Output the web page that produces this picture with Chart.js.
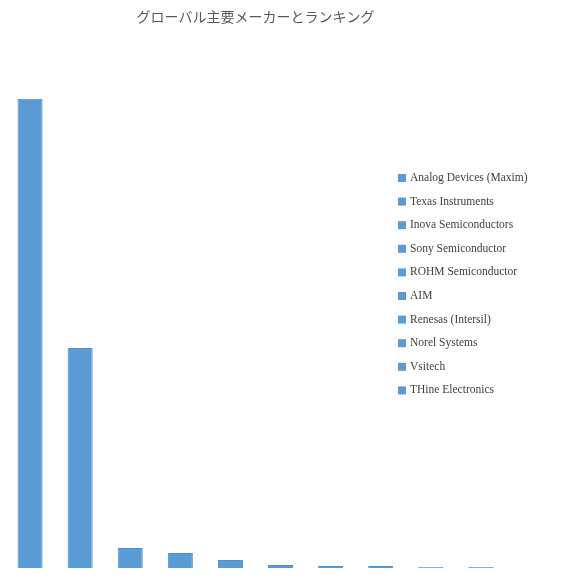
<!DOCTYPE html>
<html>
<head>
<meta charset="utf-8">
<script src="https://cdn.jsdelivr.net/npm/chart.js@4"></script>
<style>
  html, body { margin: 0; padding: 0; background: #fff; }
  #wrap { width: 562px; height: 583px; }
</style>
</head>
<body>
<div id="wrap"><canvas id="myChart"></canvas></div>
<script>
// categories and values
const makers = [
    'Analog Devices (Maxim)',
    'Texas Instruments',
    'Inova Semiconductors',
    'Sony Semiconductor',
    'ROHM Semiconductor',
    'AIM',
    'Renesas (Intersil)',
    'Norel Systems',
    'Vsitech',
    'THine Electronics'
];
const shares = [46.9, 22.0, 2.0, 1.5, 0.8, 0.3, 0.2, 0.2, 0.1, 0.1];
const titleText = 'グローバル主要メーカーとランキング';

const barColor = '#5B9BD5';

// legend drawn over the plot, like the original
const overlayLegend = {
    id: 'overlayLegend',
    afterDraw(chart) {
        const c = chart.ctx;
        c.save();
        c.font = '11.5px "Liberation Serif", "DejaVu Serif", serif';
        c.textBaseline = 'middle';
        chart.data.labels.forEach((name, i) => {
            const y = 178 + i * 23.6;
            c.fillStyle = barColor;
            c.fillRect(398, y - 4, 8, 8);
            c.fillStyle = '#404040';
            c.fillText(name, 410, y);
        });
        c.restore();
    }
};

const ctx = document.getElementById('myChart');

new Chart(ctx, {
    type: 'bar',
    data: {
        labels: makers,
        datasets: [{
            label: 'share',
            data: shares,
            backgroundColor: barColor,
            borderColor: '#4F8FCB',
            borderWidth: 1,
            categoryPercentage: 1.0,
            barPercentage: 0.5
        }]
    },
    options: {
        responsive: true,
        maintainAspectRatio: false,
        animation: false,
        layout: {
            padding: { left: 5, right: 56, top: 0, bottom: 15 }
        },
        plugins: {
            legend: { display: false },
            tooltip: { enabled: false },
            title: {
                display: true,
                text: titleText,
                color: '#595959',
                font: { size: 14, weight: 'normal', family: '"Noto Sans CJK JP", sans-serif' },
                padding: { top: 8, bottom: 20 }
            }
        },
        scales: {
            x: { display: false },
            y: { display: false, min: 0, max: 52.3 }
        }
    },
    plugins: [overlayLegend]
});
</script>
</body>
</html>
